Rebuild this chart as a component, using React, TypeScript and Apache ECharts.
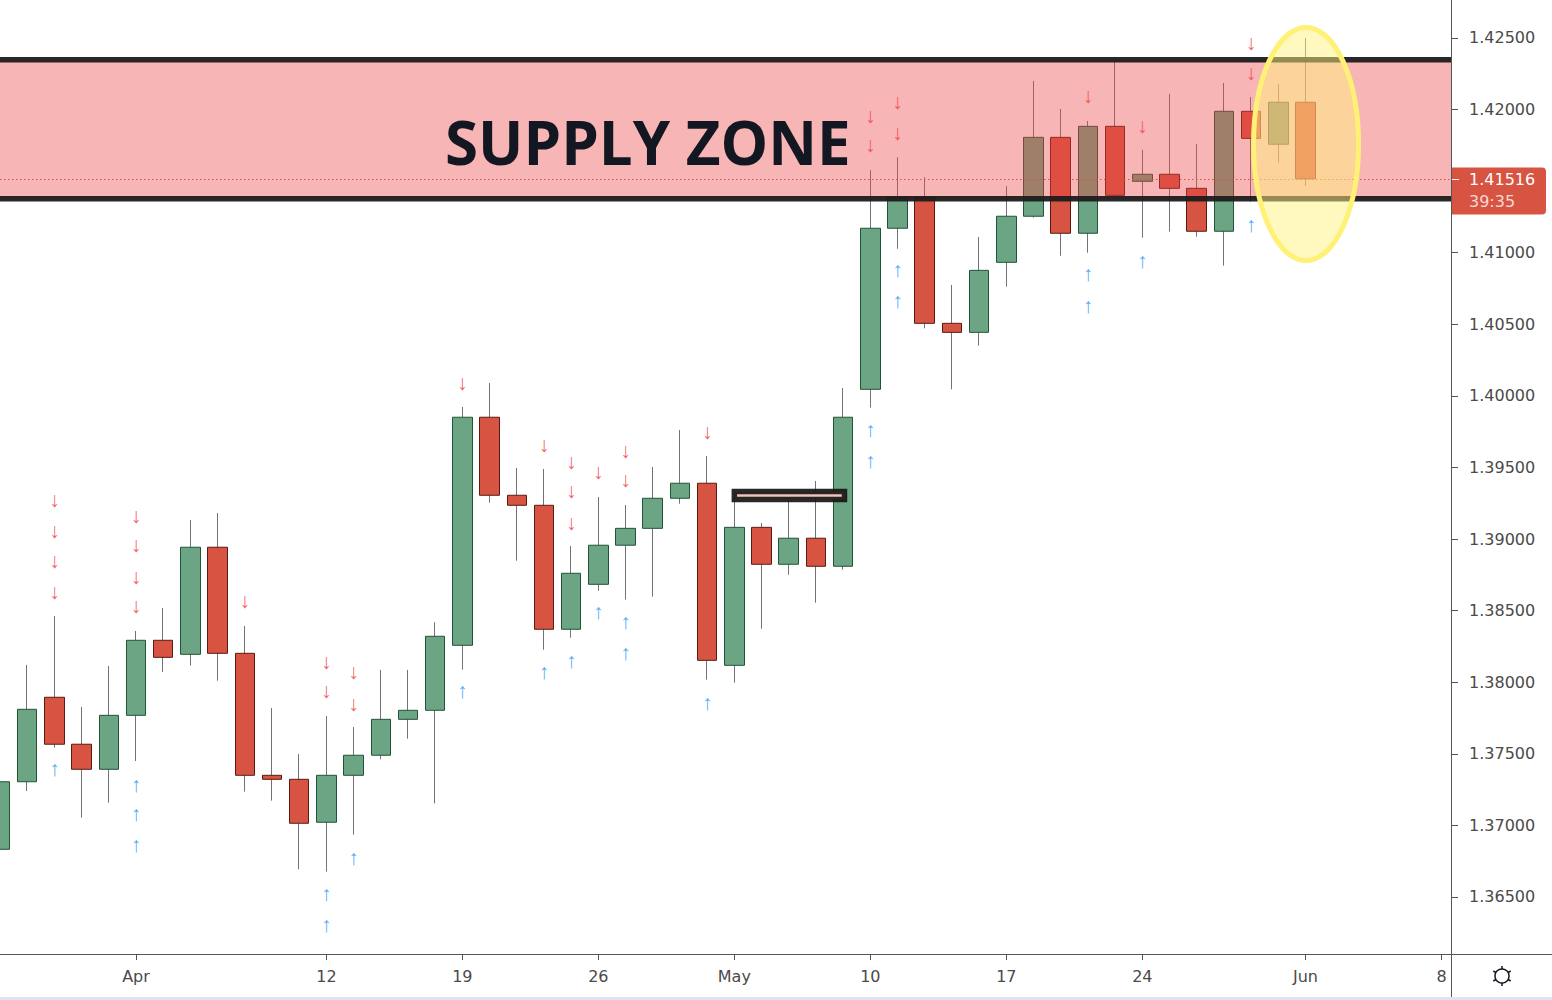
import React, { useEffect, useRef } from "react";
import * as echarts from "echarts";

// ---------- data ----------
const dates = [
  "2021-03-25", "2021-03-26", "2021-03-29", "2021-03-30", "2021-03-31",
  "2021-04-01", "2021-04-02", "2021-04-05", "2021-04-06", "2021-04-07",
  "2021-04-08", "2021-04-09", "2021-04-12", "2021-04-13", "2021-04-14",
  "2021-04-15", "2021-04-16", "2021-04-19", "2021-04-20", "2021-04-21",
  "2021-04-22", "2021-04-23", "2021-04-26", "2021-04-27", "2021-04-28",
  "2021-04-29", "2021-04-30", "2021-05-03", "2021-05-04", "2021-05-05",
  "2021-05-06", "2021-05-07", "2021-05-10", "2021-05-11", "2021-05-12",
  "2021-05-13", "2021-05-14", "2021-05-17", "2021-05-18", "2021-05-19",
  "2021-05-20", "2021-05-21", "2021-05-24", "2021-05-25", "2021-05-26",
  "2021-05-27", "2021-05-28", "2021-05-31", "2021-06-01", "2021-06-02",
  "2021-06-03", "2021-06-04", "2021-06-07", "2021-06-08",
];

const opens = [
  1.36833, 1.37305, 1.37895, 1.37567, 1.37392, 1.37769, 1.38293, 1.38195, 1.38943, 1.38202,
  1.3735, 1.37322, 1.37022, 1.3735, 1.3749, 1.37741, 1.37804, 1.38258, 1.39851, 1.39306,
  1.39236, 1.3837, 1.38684, 1.38957, 1.39075, 1.39285, 1.3939, 1.38118, 1.39082, 1.38824,
  1.39006, 1.3881, 1.40046, 1.41171, 1.41387, 1.40507, 1.40444, 1.40933, 1.41255, 1.41806,
  1.41136, 1.41883, 1.41499, 1.41548, 1.4145, 1.4115, 1.41988, 1.41758, 1.42051,
];
const closes = [
  1.37305, 1.37811, 1.37567, 1.37392, 1.37769, 1.38293, 1.38174, 1.38943, 1.38202, 1.3735,
  1.37322, 1.37015, 1.3735, 1.3749, 1.37741, 1.37804, 1.38321, 1.39851, 1.39306, 1.39236,
  1.3837, 1.38761, 1.38957, 1.39075, 1.39285, 1.3939, 1.38153, 1.39082, 1.38824, 1.39006,
  1.3881, 1.39851, 1.41171, 1.41387, 1.40507, 1.40444, 1.40877, 1.41255, 1.41806, 1.41136,
  1.41883, 1.41401, 1.41548, 1.4145, 1.4115, 1.41988, 1.41799, 1.42051, 1.41516,
];
const highs = [
  1.3745, 1.38121, 1.38463, 1.37827, 1.38114, 1.38358, 1.38519, 1.39133, 1.39182, 1.38393,
  1.3782, 1.37499, 1.37764, 1.37687, 1.38086, 1.38086, 1.38419, 1.39923, 1.4009, 1.39497,
  1.3949, 1.38952, 1.39294, 1.39238, 1.39503, 1.39762, 1.3958, 1.39329, 1.39112, 1.39273,
  1.39406, 1.40055, 1.41578, 1.41667, 1.41527, 1.40775, 1.4111, 1.41466, 1.422, 1.42004,
  1.4192, 1.42339, 1.41718, 1.42109, 1.4176, 1.42186, 1.42088, 1.42179, 1.425,
];
const lows = [
  1.36689, 1.3724, 1.37543, 1.37054, 1.37159, 1.3745, 1.38072, 1.38116, 1.38011, 1.37236,
  1.37173, 1.36693, 1.36677, 1.36935, 1.37462, 1.37606, 1.37154, 1.38088, 1.39254, 1.38849,
  1.38227, 1.38311, 1.38639, 1.38577, 1.38598, 1.39247, 1.38018, 1.37997, 1.38374, 1.38751,
  1.38556, 1.38786, 1.39918, 1.41028, 1.40472, 1.40046, 1.40351, 1.40763, 1.41245, 1.40979,
  1.41, 1.41399, 1.41105, 1.41147, 1.41112, 1.4091, 1.41357, 1.41629, 1.41468,
];

const tickDates = [
  "2021-04-01", "2021-04-12", "2021-04-19", "2021-04-26", "2021-05-03",
  "2021-05-10", "2021-05-17", "2021-05-24", "2021-06-01", "2021-06-08",
];
const tickLabels = ["Apr", "12", "19", "26", "May", "10", "17", "24", "Jun", "8"];

const priceTicks = [
  1.365, 1.37, 1.375, 1.38, 1.385, 1.39, 1.395, 1.4, 1.405, 1.41, 1.415, 1.42, 1.425,
];

const downArrows: [string, number][] = [
  ["2021-03-29", 1.39266], ["2021-03-29", 1.3905], ["2021-03-29", 1.3884], ["2021-03-29", 1.3863],
  ["2021-04-01", 1.39161], ["2021-04-01", 1.38952], ["2021-04-01", 1.38735], ["2021-04-01", 1.38526],
  ["2021-04-07", 1.38561],
  ["2021-04-12", 1.38141], ["2021-04-12", 1.37932],
  ["2021-04-13", 1.38065], ["2021-04-13", 1.37848],
  ["2021-04-19", 1.4009],
  ["2021-04-22", 1.39657],
  ["2021-04-23", 1.39538], ["2021-04-23", 1.39329], ["2021-04-23", 1.39112],
  ["2021-04-26", 1.39462],
  ["2021-04-27", 1.39615], ["2021-04-27", 1.39406],
  ["2021-04-30", 1.39741],
  ["2021-05-10", 1.41955], ["2021-05-10", 1.41746],
  ["2021-05-11", 1.42046], ["2021-05-11", 1.41836],
  ["2021-05-20", 1.42088],
  ["2021-05-24", 1.41885],
  ["2021-05-28", 1.42465], ["2021-05-28", 1.42249],
];
const upArrows: [string, number][] = [
  ["2021-03-29", 1.37394],
  ["2021-04-01", 1.37282], ["2021-04-01", 1.37073], ["2021-04-01", 1.36863],
  ["2021-04-12", 1.36514], ["2021-04-12", 1.36304],
  ["2021-04-13", 1.36772],
  ["2021-04-19", 1.37932],
  ["2021-04-22", 1.38065],
  ["2021-04-23", 1.38148],
  ["2021-04-26", 1.38484],
  ["2021-04-27", 1.38414], ["2021-04-27", 1.38204],
  ["2021-04-30", 1.37855],
  ["2021-05-10", 1.39755], ["2021-05-10", 1.39545],
  ["2021-05-11", 1.40873], ["2021-05-11", 1.40656],
  ["2021-05-20", 1.40845], ["2021-05-20", 1.40628],
  ["2021-05-24", 1.40942],
  ["2021-05-28", 1.41187],
];

const zoneTop = 1.42348;
const zoneBottom = 1.41378;
const zoneTitle = "SUPPLY ZONE";
const zoneTitleAnchor = [23.82, 1.41775];

const boxFromIdx = 27.0;
const boxToIdx = 31.05;
const boxTop = 1.39332;
const boxBottom = 1.39276;

const ellipseCenter = [48.02, 1.4176];
const ellipseHalfSize = [1.93, 0.00814];

const lastPrice = 1.41516;
const countdown = "39:35";

const xMin = 0;
const xMax = 53.35;
const yMin = 1.361018;
const yMax = 1.427654;

// ---------- helpers ----------
const idx = (d: string) => dates.indexOf(d);
const tickIdx = tickDates.map(idx);
const fullCandles = opens.map((o, i) => [i, o, closes[i], lows[i], highs[i]]);
const bodyCandles = opens.map((o, i) => [i, o, closes[i], Math.min(o, closes[i]), Math.max(o, closes[i])]);

const AXIS_FONT = "'DejaVu Sans', sans-serif";
const LABEL_COLOR = "#4a4a4a";
const AXIS_COLOR = "#555555";

export default function App() {
  const ref = useRef<HTMLDivElement>(null);

  useEffect(() => {
    document.body.style.margin = "0";
    if (!ref.current) return;
    const chart = echarts.init(ref.current, null, { renderer: "svg" });

    const arrowLabel = (glyph: string, color: string) => ({
      show: true,
      position: "inside",
      formatter: glyph,
      color,
      fontSize: 21,
      fontFamily: "'Liberation Sans', sans-serif",
      offset: [0, -1],
    });

    const option: any = {
      animation: false,
      backgroundColor: "#ffffff",
      grid: { left: 0, right: 101, top: 0, bottom: 46 },
      xAxis: {
        type: "value",
        min: xMin,
        max: xMax,
        splitLine: { show: false },
        axisLine: { show: true, onZero: false, lineStyle: { color: AXIS_COLOR, width: 1 } },
        axisTick: { show: true, customValues: tickIdx, length: 6, lineStyle: { color: AXIS_COLOR } },
        axisLabel: {
          customValues: tickIdx,
          margin: 14,
          color: LABEL_COLOR,
          fontSize: 16,
          fontFamily: AXIS_FONT,
          formatter: (v: number) => {
            const k = tickIdx.indexOf(Math.round(v));
            return k >= 0 ? tickLabels[k] : "";
          },
        },
      },
      yAxis: {
        type: "value",
        position: "right",
        min: yMin,
        max: yMax,
        splitLine: { show: false },
        axisLine: { show: true, onZero: false, lineStyle: { color: AXIS_COLOR, width: 1 } },
        axisTick: { show: true, customValues: priceTicks, length: 7, lineStyle: { color: AXIS_COLOR } },
        axisLabel: {
          customValues: priceTicks,
          margin: 18,
          color: LABEL_COLOR,
          fontSize: 16,
          fontFamily: AXIS_FONT,
          formatter: (v: number) => v.toFixed(5),
        },
      },
      series: [
        {
          name: "wicks",
          type: "candlestick",
          data: fullCandles,
          encode: { x: 0, y: [1, 2, 3, 4] },
          barWidth: 0.01,
          silent: true,
          z: 2,
          itemStyle: {
            color: "#737375",
            color0: "#737375",
            borderColor: "#737375",
            borderColor0: "#737375",
            borderWidth: 1,
          },
        },
        {
          name: "bodies",
          type: "candlestick",
          data: bodyCandles,
          encode: { x: 0, y: [1, 2, 3, 4] },
          barWidth: 20,
          silent: true,
          z: 2,
          itemStyle: {
            color: "#6ba583",
            color0: "#d75442",
            borderColor: "#225437",
            borderColor0: "#5b1a13",
            borderWidth: 1,
          },
        },
        {
          name: "down",
          type: "scatter",
          data: downArrows.map(([d, p]) => [idx(d), p]),
          symbolSize: 1,
          silent: true,
          z: 2,
          itemStyle: { color: "rgba(0,0,0,0)" },
          label: arrowLabel("↓", "#f23645"),
        },
        {
          name: "up",
          type: "scatter",
          data: upArrows.map(([d, p]) => [idx(d), p]),
          symbolSize: 1,
          silent: true,
          z: 2,
          itemStyle: { color: "rgba(0,0,0,0)" },
          label: arrowLabel("↑", "#2196f3"),
        },
        {
          name: "zone",
          type: "custom",
          silent: true,
          z: 3,
          data: [[0, zoneTop, zoneBottom]],
          encode: { x: 0, y: [1, 2] },
          renderItem: (params: any, api: any) => {
            const cs = params.coordSys;
            const yT = api.coord([api.value(0), api.value(1)])[1];
            const yB = api.coord([api.value(0), api.value(2)])[1];
            const x0 = cs.x;
            const x1 = cs.x + cs.width;
            const lineStyle = { stroke: "rgba(30,27,27,0.95)", lineWidth: 5.5 };
            return {
              type: "group",
              children: [
                { type: "rect", shape: { x: x0, y: yT, width: x1 - x0, height: yB - yT }, style: { fill: "rgba(238,70,70,0.4)" } },
                { type: "line", shape: { x1: x0, y1: yT, x2: x1, y2: yT }, style: lineStyle },
                { type: "line", shape: { x1: x0, y1: yB, x2: x1, y2: yB }, style: lineStyle },
              ],
            };
          },
        },
        {
          name: "box",
          type: "custom",
          silent: true,
          z: 3,
          data: [[boxFromIdx, boxTop, boxToIdx, boxBottom]],
          encode: { x: [0, 2], y: [1, 3] },
          renderItem: (params: any, api: any) => {
            const a = api.coord([api.value(0), api.value(1)]);
            const b = api.coord([api.value(2), api.value(3)]);
            return {
              type: "rect",
              shape: { x: a[0], y: a[1], width: b[0] - a[0], height: b[1] - a[1] },
              style: { fill: "#eec4bc", stroke: "rgba(22,22,22,0.92)", lineWidth: 5.5 },
            };
          },
        },
        {
          name: "lastLine",
          type: "custom",
          silent: true,
          z: 4,
          data: [[0, lastPrice]],
          renderItem: (params: any, api: any) => {
            const cs = params.coordSys;
            const y = Math.round(api.coord([api.value(0), api.value(1)])[1]) + 0.5;
            return {
              type: "line",
              shape: { x1: cs.x, y1: y, x2: cs.x + cs.width, y2: y },
              style: { stroke: "#d75442", lineWidth: 1, lineDash: [1.5, 2.5] },
            };
          },
        },
        {
          name: "title",
          type: "custom",
          silent: true,
          z: 4,
          data: [zoneTitleAnchor],
          renderItem: (params: any, api: any) => {
            const p = api.coord([api.value(0), api.value(1)]);
            return {
              type: "text",
              x: p[0],
              y: p[1],
              style: {
                text: zoneTitle,
                fill: "#131722",
                fontSize: 60,
                fontWeight: "bold",
                fontFamily: "'Open Sans', sans-serif",
                align: "center",
                verticalAlign: "middle",
              },
            };
          },
        },
        {
          name: "highlight",
          type: "custom",
          silent: true,
          z: 5,
          data: [[ellipseCenter[0], ellipseCenter[1], ellipseHalfSize[0], ellipseHalfSize[1]]],
          renderItem: (params: any, api: any) => {
            const c = api.coord([api.value(0), api.value(1)]);
            const s = api.size([api.value(2), api.value(3)]);
            return {
              type: "ellipse",
              shape: { cx: c[0], cy: c[1], rx: s[0], ry: s[1] },
              style: { fill: "rgba(255,242,128,0.5)", stroke: "#fff176", lineWidth: 5 },
            };
          },
        },
        {
          name: "priceLabel",
          type: "custom",
          silent: true,
          z: 6,
          data: [[0, lastPrice]],
          renderItem: (params: any, api: any) => {
            const cs = params.coordSys;
            const y = Math.round(api.coord([api.value(0), api.value(1)])[1]) + 0.5;
            const xr = cs.x + cs.width;
            return {
              type: "group",
              children: [
                { type: "rect", shape: { x: xr + 1, y: y - 12, width: 94, height: 47, r: [0, 4, 4, 0] }, style: { fill: "#d75442" } },
                { type: "line", shape: { x1: xr + 1, y1: y, x2: xr + 8, y2: y }, style: { stroke: "#ffffff", lineWidth: 1 } },
                {
                  type: "text",
                  x: xr + 18,
                  y: y,
                  style: { text: lastPrice.toFixed(5), fill: "#ffffff", fontSize: 16, fontFamily: AXIS_FONT, align: "left", verticalAlign: "middle" },
                },
                {
                  type: "text",
                  x: xr + 18,
                  y: y + 22,
                  style: { text: countdown, fill: "rgba(255,255,255,0.78)", fontSize: 16, fontFamily: AXIS_FONT, align: "left", verticalAlign: "middle" },
                },
              ],
            };
          },
        },
      ],
      graphic: [
        { type: "line", shape: { x1: 1451, y1: 954.5, x2: 1552, y2: 954.5 }, style: { stroke: AXIS_COLOR, lineWidth: 1 }, silent: true },
        { type: "line", shape: { x1: 1451.5, y1: 954, x2: 1451.5, y2: 997 }, style: { stroke: AXIS_COLOR, lineWidth: 1 }, silent: true },
        { type: "rect", shape: { x: 0, y: 997, width: 1552, height: 3 }, style: { fill: "#e0e3eb" }, silent: true },
        {
          type: "group",
          x: 1502,
          y: 976,
          silent: true,
          children: [
            { type: "circle", shape: { cx: 0, cy: 0, r: 7 }, style: { fill: "none", stroke: "#131722", lineWidth: 1.5 } },
            { type: "line", shape: { x1: 0, y1: -7, x2: 0, y2: -10 }, style: { stroke: "#131722", lineWidth: 1.5 } },
            { type: "line", shape: { x1: 0, y1: 7, x2: 0, y2: 10 }, style: { stroke: "#131722", lineWidth: 1.5 } },
            { type: "line", shape: { x1: -6.1, y1: -3.5, x2: -8.7, y2: -5 }, style: { stroke: "#131722", lineWidth: 1.5 } },
            { type: "line", shape: { x1: 6.1, y1: -3.5, x2: 8.7, y2: -5 }, style: { stroke: "#131722", lineWidth: 1.5 } },
            { type: "line", shape: { x1: -6.1, y1: 3.5, x2: -8.7, y2: 5 }, style: { stroke: "#131722", lineWidth: 1.5 } },
            { type: "line", shape: { x1: 6.1, y1: 3.5, x2: 8.7, y2: 5 }, style: { stroke: "#131722", lineWidth: 1.5 } },
          ],
        },
      ],
    };

    chart.setOption(option);
    return () => chart.dispose();
  }, []);

  return <div ref={ref} style={{ width: 1552, height: 1000 }} />;
}
